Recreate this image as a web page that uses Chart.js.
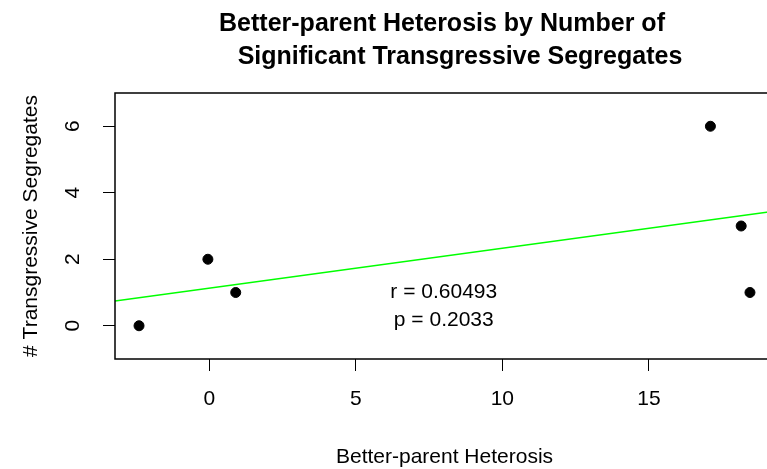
<!DOCTYPE html>
<html>
<head>
<meta charset="utf-8">
<script src="https://cdn.jsdelivr.net/npm/chart.js@4"></script>
<style>
  html, body { margin: 0; padding: 0; background: #fff; overflow: hidden; }
  #wrap { width: 800px; height: 469px; }
</style>
</head>
<body>
<div id="wrap"><canvas id="scatter-chart"></canvas></div>
<script>
////// values
let heterosis = [-2.4, -0.05, 0.9, 17.1, 18.15, 18.45];
let segregates = [0, 2, 1, 6, 3, 1];
let xTicks = [0, 5, 10, 15];
let yTicks = [0, 2, 4, 6];
let xRange = [-3.22, 19.27];
let yRange = [-1, 7];
// fitted line as drawn: intercept, slope
let fitLine = [1.13, 0.12];
let statLines = ['r = 0.60493', 'p = 0.2033'];
let statAt = [8, 0.6];
let titleLines = ['Better-parent Heterosis by Number of', 'Significant Transgressive Segregates'];

const FONT = "'Liberation Sans', Arial, sans-serif";

// box round the plot, the two-line title and the r / p note
let extras = {
    id: 'extras',
    afterDraw: function (chart) {
        let ctx = chart.ctx;
        let a = chart.chartArea;
        ctx.save();
        ctx.strokeStyle = '#000';
        ctx.lineWidth = 1.5;
        ctx.strokeRect(a.left, a.top, a.right - a.left, a.bottom - a.top);

        ctx.fillStyle = '#000';
        ctx.textAlign = 'center';
        ctx.textBaseline = 'alphabetic';
        ctx.font = 'bold 25px ' + FONT;
        ctx.fillText(titleLines[0], 442, 31);
        ctx.fillText(titleLines[1], 460, 64);

        let cx = chart.scales.x.getPixelForValue(statAt[0]);
        let cy = chart.scales.y.getPixelForValue(statAt[1]);
        ctx.font = '21px ' + FONT;
        ctx.textBaseline = 'middle';
        ctx.fillText(statLines[0], cx, cy - 14);
        ctx.fillText(statLines[1], cx, cy + 14);
        ctx.restore();
    }
};

let points = heterosis.map(function (x, i) { return { x: x, y: segregates[i] }; });
let fit = xRange.map(function (x) { return { x: x, y: fitLine[0] + fitLine[1] * x }; });

let canvas = document.getElementById('scatter-chart').getContext('2d');
let chart = new Chart(canvas, {
    type: 'scatter',
    data: {
        datasets: [
            {
                data: points,
                backgroundColor: '#000',
                borderColor: '#000',
                pointRadius: 5,
                pointHoverRadius: 5
            },
            {
                data: fit,
                showLine: true,
                borderColor: '#00ff00',
                borderWidth: 1.5,
                pointRadius: 0,
                fill: false
            }
        ]
    },
    options: {
        responsive: true,
        maintainAspectRatio: false,
        animation: false,
        layout: { padding: { top: 93, right: 26, left: 0, bottom: 0 } },
        plugins: {
            legend: { display: false },
            tooltip: { enabled: false }
        },
        scales: {
            x: {
                type: 'linear',
                min: xRange[0],
                max: xRange[1],
                afterBuildTicks: function (s) { s.ticks = xTicks.map(function (v) { return { value: v }; }); },
                afterFit: function (s) { s.height = 110; },
                grid: { drawOnChartArea: false, drawTicks: true, tickLength: 12, color: '#000', lineWidth: 1 },
                border: { display: false },
                ticks: { color: '#000', font: { family: FONT, size: 21 }, padding: 16, maxRotation: 0 },
                title: {
                    display: true, text: 'Better-parent Heterosis', color: '#000',
                    font: { family: FONT, size: 21 }, padding: { top: 0, bottom: -1 }
                }
            },
            y: {
                type: 'linear',
                min: yRange[0],
                max: yRange[1],
                afterBuildTicks: function (s) { s.ticks = yTicks.map(function (v) { return { value: v }; }); },
                afterFit: function (s) { s.width = 115; },
                grid: { drawOnChartArea: false, drawTicks: true, tickLength: 12, color: '#000', lineWidth: 1 },
                border: { display: false },
                ticks: {
                    color: '#000', font: { family: FONT, size: 21 }, padding: 24,
                    minRotation: 90, maxRotation: 90, crossAlign: 'center'
                },
                title: {
                    display: true, text: '# Transgressive Segregates', color: '#000',
                    font: { family: FONT, size: 21 }, padding: { top: 19, bottom: 0 }
                }
            }
        }
    },
    plugins: [extras]
});
</script>
</body>
</html>
